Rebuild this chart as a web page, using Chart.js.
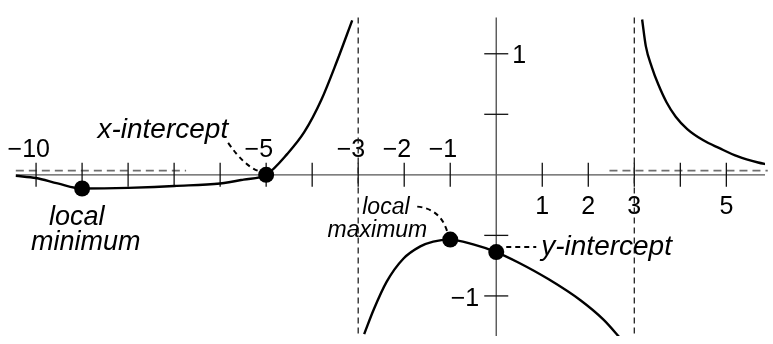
<!DOCTYPE html>
<html>
<head>
<meta charset="utf-8">
<script src="https://cdn.jsdelivr.net/npm/chart.js@4.4.0/dist/chart.umd.min.js"></script>
<style>
  html, body { margin: 0; padding: 0; background: #fff; }
  #wrap { width: 773px; height: 344px; }
</style>
</head>
<body>
<div id="wrap"><canvas id="graph" width="773" height="344"></canvas></div>
<script>
// curve, one array pair per branch
const leftX = [-10.44, -10, -9.53, -9, -8.52, -8, -7.43, -7, -6, -5.49, -5, -4.54, -4.17, -3.8, -3.46, -3.13];
const leftY = [-0.008, -0.026, -0.071, -0.113, -0.112, -0.108, -0.1, -0.092, -0.071, -0.039, 0, 0.173, 0.354, 0.62, 0.94, 1.276];

const midX = [-2.87, -2.66, -2.38, -2.02, -1.65, -1.37, -1, -0.5, 0, 0.48, 1.14, 1.83, 2.33, 2.72];
const midY = [-1.315, -1.11, -0.882, -0.693, -0.591, -0.551, -0.535, -0.575, -0.638, -0.724, -0.863, -1.036, -1.196, -1.36];

const rightX = [3.17, 3.25, 3.38, 3.52, 3.7, 3.9, 4.15, 4.5, 4.85, 5.25, 5.69, 5.9];
const rightY = [1.283, 1.063, 0.89, 0.748, 0.6, 0.48, 0.378, 0.285, 0.22, 0.152, 0.102, 0.085];

// local minimum, x-intercept, local maximum, y-intercept
const keyX = [-9, -5, -1, 0];
const keyY = [-0.113, 0, -0.535, -0.638];

const xTickMarks = [-10, -9, -8, -7, -6, -5, -4, -3, -2, -1, 1, 2, 3, 4, 5];
const xTickLabels = [-10, -5, -3, -2, -1, 1, 2, 3, 5];
const yTickMarks = [1, 0.5, -0.5, -1];
const yTickLabels = [1, -1];

const vAsymptotes = [-3, 3];
const hAsymptote = 0.035;
const hAsymptoteSpans = [[-10.44, -6.74], [2.46, 5.9]];

const xRange = [-10.61, 5.84];
const yRange = [-1.331, 1.378];
const axisStartX = -10.44;
const axisTopY = 1.30;

// text beside the key points (offsets in px from the point)
const notes = [
  { key: 1, size: 28, lines: [{ text: 'x-intercept', dx: -38, dy: -37, align: 'right' }],
    leader: [[-38, -32], [-22, -9], [-8, -4]] },
  { key: 0, size: 27, lines: [{ text: 'local', dx: -33, dy: 36, align: 'left' }, { text: 'minimum', dx: -51, dy: 61, align: 'left' }] },
  { key: 2, size: 23, lines: [{ text: 'local', dx: -88, dy: -26, align: 'left' }, { text: 'maximum', dx: -23, dy: -3, align: 'right' }],
    leader: [[-33, -33], [-10, -31], [-3, -8]] },
  { key: 3, size: 28, lines: [{ text: 'y-intercept', dx: 45, dy: 3, align: 'left' }],
    leader: [[10, -5], [25, -5], [40, -5]] }
];

const pts = (xs, ys) => xs.map((v, i) => ({ x: v, y: ys[i] }));
const FONT = '"Liberation Sans", Arial, Helvetica, sans-serif';
const MINUS = '\u2212';

const sketch = {
  id: 'sketch',
  beforeDatasetsDraw(chart) {
    const { ctx, chartArea, scales: { x, y } } = chart;
    const X = v => x.getPixelForValue(v);
    const Y = v => y.getPixelForValue(v);
    const seg = (x1, y1, x2, y2) => { ctx.beginPath(); ctx.moveTo(x1, y1); ctx.lineTo(x2, y2); ctx.stroke(); };
    ctx.save();

    // horizontal asymptote
    ctx.strokeStyle = '#6e6e6e';
    ctx.lineWidth = 1.6;
    ctx.setLineDash([8, 5]);
    hAsymptoteSpans.forEach(s => seg(X(s[0]), Y(hAsymptote), X(s[1]), Y(hAsymptote)));

    // axes
    ctx.setLineDash([]);
    ctx.strokeStyle = '#555';
    ctx.lineWidth = 1.4;
    seg(X(axisStartX), Y(0), chartArea.right, Y(0));
    seg(X(0), Y(axisTopY), X(0), chartArea.bottom);

    // tick marks
    ctx.strokeStyle = '#111';
    ctx.lineWidth = 1.3;
    xTickMarks.forEach(v => seg(X(v), Y(0) - 12, X(v), Y(0) + 12));
    yTickMarks.forEach(v => seg(X(0) - 12, Y(v), X(0) + 12, Y(v)));

    // tick labels
    ctx.fillStyle = '#000';
    ctx.font = '25px ' + FONT;
    ctx.textBaseline = 'alphabetic';
    xTickLabels.forEach(v => {
      const digits = String(Math.abs(v));
      if (v < 0) {
        const w = ctx.measureText(digits).width;
        ctx.textAlign = 'right';
        ctx.fillText(MINUS + digits, X(v) + w / 2, Y(0) - 18);
      } else {
        ctx.textAlign = 'center';
        ctx.fillText(digits, X(v), Y(0) + 39);
      }
    });
    ctx.textBaseline = 'middle';
    yTickLabels.forEach(v => {
      if (v > 0) {
        ctx.textAlign = 'left';
        ctx.fillText(String(v), X(0) + 16, Y(v) + 2);
      } else {
        ctx.textAlign = 'right';
        ctx.fillText(MINUS + Math.abs(v), X(0) - 17, Y(v) + 3);
      }
    });

    // vertical asymptotes
    ctx.strokeStyle = '#222';
    ctx.lineWidth = 1.3;
    ctx.setLineDash([6, 4]);
    vAsymptotes.forEach(v => seg(X(v), Y(axisTopY), X(v), chartArea.bottom));

    // notes and leaders
    ctx.textBaseline = 'alphabetic';
    notes.forEach(n => {
      const px = X(keyX[n.key]), py = Y(keyY[n.key]);
      ctx.font = 'italic ' + n.size + 'px ' + FONT;
      n.lines.forEach(l => {
        ctx.textAlign = l.align;
        ctx.fillText(l.text, px + l.dx, py + l.dy);
      });
      if (n.leader) {
        const [a, c, b] = n.leader;
        ctx.strokeStyle = '#000';
        ctx.lineWidth = 2;
        ctx.setLineDash([5, 4]);
        ctx.beginPath();
        ctx.moveTo(px + a[0], py + a[1]);
        ctx.quadraticCurveTo(px + c[0], py + c[1], px + b[0], py + b[1]);
        ctx.stroke();
      }
    });
    ctx.restore();
  }
};

const branch = (xs, ys) => ({
  data: pts(xs, ys),
  showLine: true,
  borderColor: '#000',
  borderWidth: 2.4,
  pointRadius: 0,
  tension: 0.4,
  cubicInterpolationMode: 'monotone'
});

new Chart(document.getElementById('graph'), {
  type: 'scatter',
  data: {
    datasets: [
      branch(leftX, leftY),
      branch(midX, midY),
      branch(rightX, rightY),
      {
        data: pts(keyX, keyY),
        showLine: false,
        pointRadius: 8,
        pointBackgroundColor: '#000',
        pointBorderWidth: 0
      }
    ]
  },
  options: {
    responsive: false,
    animation: false,
    devicePixelRatio: 1,
    layout: { padding: 0 },
    plugins: { legend: { display: false }, tooltip: { enabled: false } },
    scales: {
      x: { type: 'linear', display: false, min: xRange[0], max: xRange[1] },
      y: { type: 'linear', display: false, min: yRange[0], max: yRange[1] }
    }
  },
  plugins: [sketch]
});
</script>
</body>
</html>
